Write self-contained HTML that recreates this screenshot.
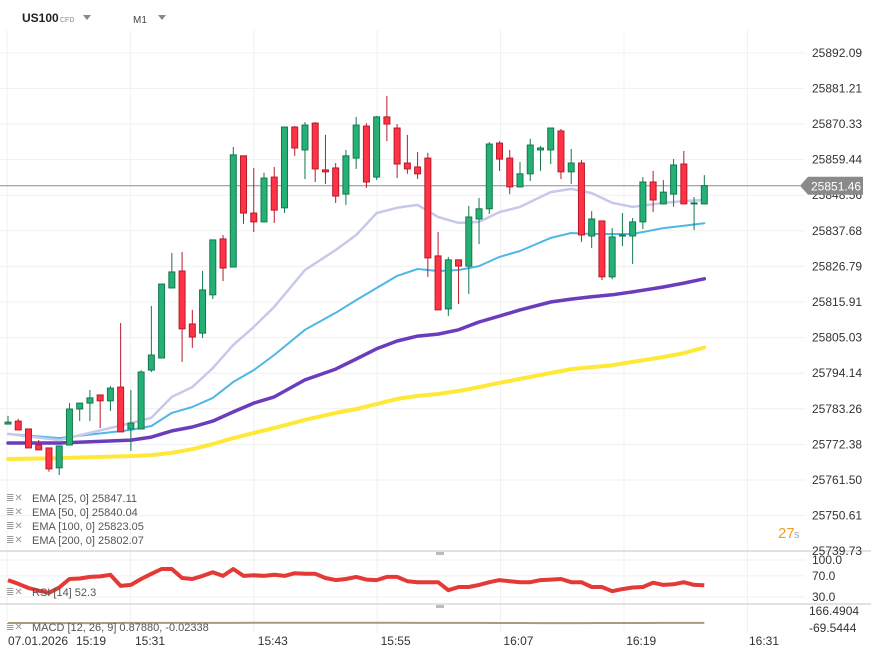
<!DOCTYPE html>
<html><head><meta charset="utf-8">
<style>
html,body{margin:0;padding:0;background:#fff;width:871px;height:659px;overflow:hidden}
svg{display:block;font-family:"Liberation Sans",sans-serif}
</style></head>
<body>
<svg id="chart" width="871" height="659" viewBox="0 0 871 659" xmlns="http://www.w3.org/2000/svg">
  <g>
    <text x="22" y="22" font-size="12" font-weight="bold" fill="#222">US100</text>
    <text x="60" y="22" font-size="7" fill="#888">CFD</text>
    <path d="M83 15 L91 15 L87 20 Z" fill="#888"/>
    <text x="133" y="23" font-size="10" fill="#444">M1</text>
    <path d="M158 15 L166 15 L162 20 Z" fill="#888"/>
  </g>
  <g id="grid"></g>
  <g id="marks"></g>
  <g id="axes"></g>
  <g font-size="11" fill="#555">
    <g><text x="6" y="501" fill="#999" font-size="10">≣✕</text><text x="32" y="502">EMA [25,  0] 25847.11</text></g>
    <g><text x="6" y="515" fill="#999" font-size="10">≣✕</text><text x="32" y="516">EMA [50,  0] 25840.04</text></g>
    <g><text x="6" y="529" fill="#999" font-size="10">≣✕</text><text x="32" y="530">EMA [100,  0] 25823.05</text></g>
    <g><text x="6" y="543" fill="#999" font-size="10">≣✕</text><text x="32" y="544">EMA [200,  0] 25802.07</text></g>
    <g><text x="6" y="595" fill="#999" font-size="10">≣✕</text><text x="32" y="596">RSI [14]  52.3</text></g>
    <g><text x="6" y="630" fill="#999" font-size="10">≣✕</text><text x="32" y="631">MACD  [12, 26, 9]  0.87880,  -0.02338</text></g>
  </g>
  <g>
    <text x="778" y="538" font-size="15" fill="#f5a023">27</text><text x="794" y="538" font-size="11" fill="#aaa">s</text>
  </g>
</svg>
<script>
const closes=[25779.2,25776.8,25771.3,25770.7,25764.9,25771.9,25783.2,25785.0,25786.6,25785.7,25789.6,25776.2,25778.9,25794.5,25799.7,25821.4,25825.1,25807.7,25805.2,25819.6,25834.9,25826.3,25860.9,25843.1,25840.4,25853.8,25844.0,25869.4,25863.0,25870.0,25856.6,25855.7,25848.3,25860.6,25870.0,25852.6,25872.5,25870.3,25858.1,25856.6,25855.1,25829.4,25813.5,25828.8,25826.9,25841.9,25844.4,25864.2,25859.6,25851.1,25855.1,25863.9,25863.0,25869.1,25855.7,25858.4,25836.4,25841.3,25823.6,25835.8,25836.4,25840.4,25852.6,25847.1,25849.5,25857.8,25845.9,25846.2,25851.5];
const opens=[25778.6,25779.5,25777.1,25772.2,25771.3,25765.2,25772.2,25783.2,25785.0,25787.5,25785.7,25789.9,25777.1,25777.1,25795.1,25798.8,25820.2,25825.4,25809.2,25806.4,25818.1,25835.2,25826.6,25860.6,25843.1,25840.4,25854.1,25844.7,25869.4,25862.4,25870.6,25856.3,25856.9,25848.9,25859.9,25869.7,25854.1,25872.5,25869.1,25858.4,25857.2,25859.9,25830.0,25813.8,25828.8,25826.9,25841.3,25844.4,25864.5,25859.9,25851.1,25855.1,25862.4,25862.4,25868.2,25855.7,25858.4,25836.1,25840.7,25823.6,25836.1,25836.1,25840.4,25852.6,25845.9,25848.9,25858.1,25845.9,25845.9];
const highs=[25781.1,25780.2,25777.1,25773.7,25771.3,25771.9,25785.0,25785.0,25789.0,25787.5,25790.2,25809.5,25789.0,25795.1,25814.7,25821.4,25830.9,25831.2,25813.5,25825.4,25834.9,25836.4,25863.3,25860.6,25856.9,25855.4,25857.2,25869.4,25869.7,25870.9,25870.9,25867.0,25858.4,25862.4,25872.5,25870.6,25872.8,25878.9,25870.3,25867.0,25861.8,25861.5,25837.3,25829.7,25828.8,25845.3,25847.7,25864.8,25865.1,25862.4,25858.7,25865.8,25863.6,25869.1,25868.8,25862.7,25859.3,25843.7,25840.7,25838.5,25843.1,25841.6,25854.1,25856.0,25853.2,25859.6,25862.1,25848.0,25854.7];
const lows=[25778.6,25776.8,25771.3,25770.7,25764.0,25763.0,25772.2,25779.5,25779.5,25777.4,25782.6,25776.2,25770.4,25777.1,25794.5,25798.8,25820.2,25797.6,25801.9,25804.9,25816.8,25822.3,25826.6,25839.8,25837.3,25840.4,25840.1,25843.1,25860.6,25853.5,25852.6,25852.0,25846.2,25845.6,25856.6,25850.8,25853.2,25865.1,25853.8,25855.1,25853.5,25823.6,25813.5,25811.6,25815.3,25818.4,25833.6,25842.8,25856.0,25848.9,25851.1,25852.9,25856.0,25858.1,25853.5,25852.0,25834.3,25832.4,25822.6,25822.9,25833.0,25827.5,25838.2,25843.4,25845.9,25845.0,25845.9,25837.9,25845.9];
const emaIdx=[0,5,12,14,16,18,20,22,24,26,29,32,34,36,38,40,42,44,46,48,50,53,55,57,59,61,64,66,68];
const ema25=[25775.6,25773.7,25778.9,25780.5,25786.9,25789.9,25795.7,25802.8,25808.3,25814.4,25825.7,25831.8,25836.4,25843.1,25844.7,25845.6,25841.9,25840.1,25840.4,25843.4,25845.0,25849.5,25850.5,25849.2,25846.2,25845.0,25846.2,25846.8,25847.1];
const ema50=[25775.6,25774.3,25776.8,25778.0,25782.0,25783.8,25786.6,25791.5,25795.1,25799.7,25807.4,25812.6,25816.5,25820.2,25823.9,25826.0,25825.4,25825.7,25826.9,25829.7,25831.5,25835.5,25837.0,25836.7,25836.7,25836.7,25838.5,25839.2,25840.0];
const ema100=[25772.8,25772.8,25773.7,25774.6,25776.5,25777.7,25779.5,25782.3,25785.0,25786.9,25792.1,25795.4,25798.5,25801.6,25804.0,25805.5,25806.1,25807.4,25809.8,25811.6,25813.5,25815.9,25816.8,25817.5,25818.1,25819.0,25820.5,25821.7,25823.0];
const ema200=[25767.9,25768.2,25768.8,25769.1,25769.8,25770.9,25772.5,25774.3,25775.9,25777.4,25779.9,25782.0,25783.2,25784.7,25786.3,25787.2,25787.8,25788.7,25789.9,25791.2,25792.4,25794.2,25795.4,25796.0,25796.6,25797.6,25799.1,25800.3,25802.0];
const rsi=[62,55,47,42,38,48,64,65,68,69,72,51,53,64,74,83,83,66,64,70,77,70,83,70,71,70,72,70,75,74,74,66,62,64,68,63,62,68,68,60,58,58,58,43,49,49,53,58,62,60,58,58,62,63,64,58,58,49,49,41,45,48,49,57,53,54,58,53,52.3];
const macd=[0,0,-1,-1,-1,0,1,1,2,2,2,2,3,3,4,4,4,4,3,3,2,2,1,1,0,0,-1,-1,-1,0,0,0,1,1,1];
const priceTicks=[25892.09,25881.21,25870.33,25859.44,25848.56,25837.68,25826.79,25815.91,25805.03,25794.14,25783.26,25772.38,25761.50,25750.61,25739.73];
const rsiTicks=[100,70,30];
const macdTicks=["166.4904","-69.5444"];
const timeLabels=["15:19","15:31","15:43","15:55","16:07","16:19","16:31"];
const lastPrice=25851.46;

const NS="http://www.w3.org/2000/svg";
const xOf=i=>8+i*10.24;
const yOf=p=>124+(25870.33-p)*3.271;
const yR=v=>560+(100-v)*0.529;
function mk(tag,attrs,parent){const e=document.createElementNS(NS,tag);for(const k in attrs)e.setAttribute(k,attrs[k]);parent.appendChild(e);return e;}
const grid=document.getElementById('grid'),marks=document.getElementById('marks'),axes=document.getElementById('axes');

// vertical grid
for(let k=0;k<7;k++){const x=7+k*123.4;
  const l=mk('line',{x1:x,x2:x,y1:30,y2:633,stroke:'#f0f0f0','stroke-width':1},grid);
  
  }
priceTicks.forEach(p=>{const y=yOf(p);
  const l=mk('line',{x1:0,x2:805,y1:y,y2:y,stroke:'#f0f0f0','stroke-width':1},grid);
  
  
  const t=mk('text',{x:812,y:y+4,'font-size':12,fill:'#333'},axes);t.textContent=p.toFixed(2);
  
  });
rsiTicks.forEach(v=>{const y=yR(v);
  const l=mk('line',{x1:0,x2:805,y1:y,y2:y,stroke:'#f0f0f0','stroke-width':1},grid);
  
  
  const t=mk('text',{x:812,y:y+4,'font-size':12,fill:'#333'},axes);t.textContent=v.toFixed(1);
  
  });
macdTicks.forEach((s,k)=>{const t=mk('text',{x:809,y:615+k*17,'font-size':12,fill:'#333'},axes);t.textContent=s;
  
  });
// separators
[551,604].forEach(y=>{const l=mk('line',{x1:0,x2:871,y1:y,y2:y,stroke:'#d8d8d8','stroke-width':1.5},grid);
  
  
  const h=mk('rect',{x:436,y:y+1,width:8,height:3,fill:'#bbb'},grid);
  
  });
// time labels
const d=mk('text',{x:8,y:645,'font-size':12,fill:'#333'},axes);d.textContent="07.01.2026";


timeLabels.forEach((s,k)=>{const x=k===0?76:135+(k-1)*122.8;
  const t=mk('text',{x:x,y:645,'font-size':12,fill:'#333'},axes);t.textContent=s;
  
  });

// EMA lines
function line(vals,color,w,name){const pts=vals.map((v,k)=>xOf(emaIdx[k]).toFixed(1)+','+yOf(v).toFixed(1)).join(' ');
  const p=mk('polyline',{points:pts,fill:'none',stroke:color,'stroke-width':w,'stroke-linejoin':'round','stroke-linecap':'round'},marks);
  
  }
line(ema200,'#ffe838',4,'ema200-line');
line(ema100,'#6a3dbd',3.5,'ema100-line');
line(ema50,'#4db8e6',2,'ema50-line');
line(ema25,'#c7c9ea',2.5,'ema25-line');

// price line
const pl=mk('line',{x1:0,x2:800,y1:yOf(lastPrice),y2:yOf(lastPrice),stroke:'#8c8c8c','stroke-width':1},marks);



// candles
closes.forEach((c,i)=>{const o=opens[i],up=c>=o,x=xOf(i);
  const fill=up?'#25b175':'#ff3246',edge=up?'#14774f':'#b81a2a';
  const g=mk('g',{},marks);
  
  
  mk('line',{x1:x,x2:x,y1:yOf(highs[i]),y2:yOf(lows[i]),stroke:edge,'stroke-width':1},g);
  const top=yOf(Math.max(o,c)),bot=yOf(Math.min(o,c));
  mk('rect',{x:x-3,y:top,width:6,height:Math.max(bot-top,1),fill:fill,stroke:edge,'stroke-width':1},g);});

// last price tag
const ty=yOf(lastPrice);
const tag=mk('path',{d:`M800 ${ty} L808 ${ty-9} L863 ${ty-9} L863 ${ty+9} L808 ${ty+9} Z`,fill:'#8a8a8a'},axes);


const tt=mk('text',{x:811,y:ty+5,'font-size':12,fill:'#fff'},axes);tt.textContent=lastPrice.toFixed(2);



// RSI
const rp=mk('polyline',{points:rsi.map((v,i)=>xOf(i).toFixed(1)+','+yR(v).toFixed(1)).join(' '),fill:'none',stroke:'#e53935','stroke-width':4,'stroke-linejoin':'round'},marks);



// MACD
const yM=v=>623-v*0.072;
const mp=mk('polyline',{points:macd.map((v,k)=>xOf(k*2).toFixed(1)+','+yM(v).toFixed(1)).join(' '),fill:'none',stroke:'#a89a7c','stroke-width':2},marks);


</script>
</body></html>
